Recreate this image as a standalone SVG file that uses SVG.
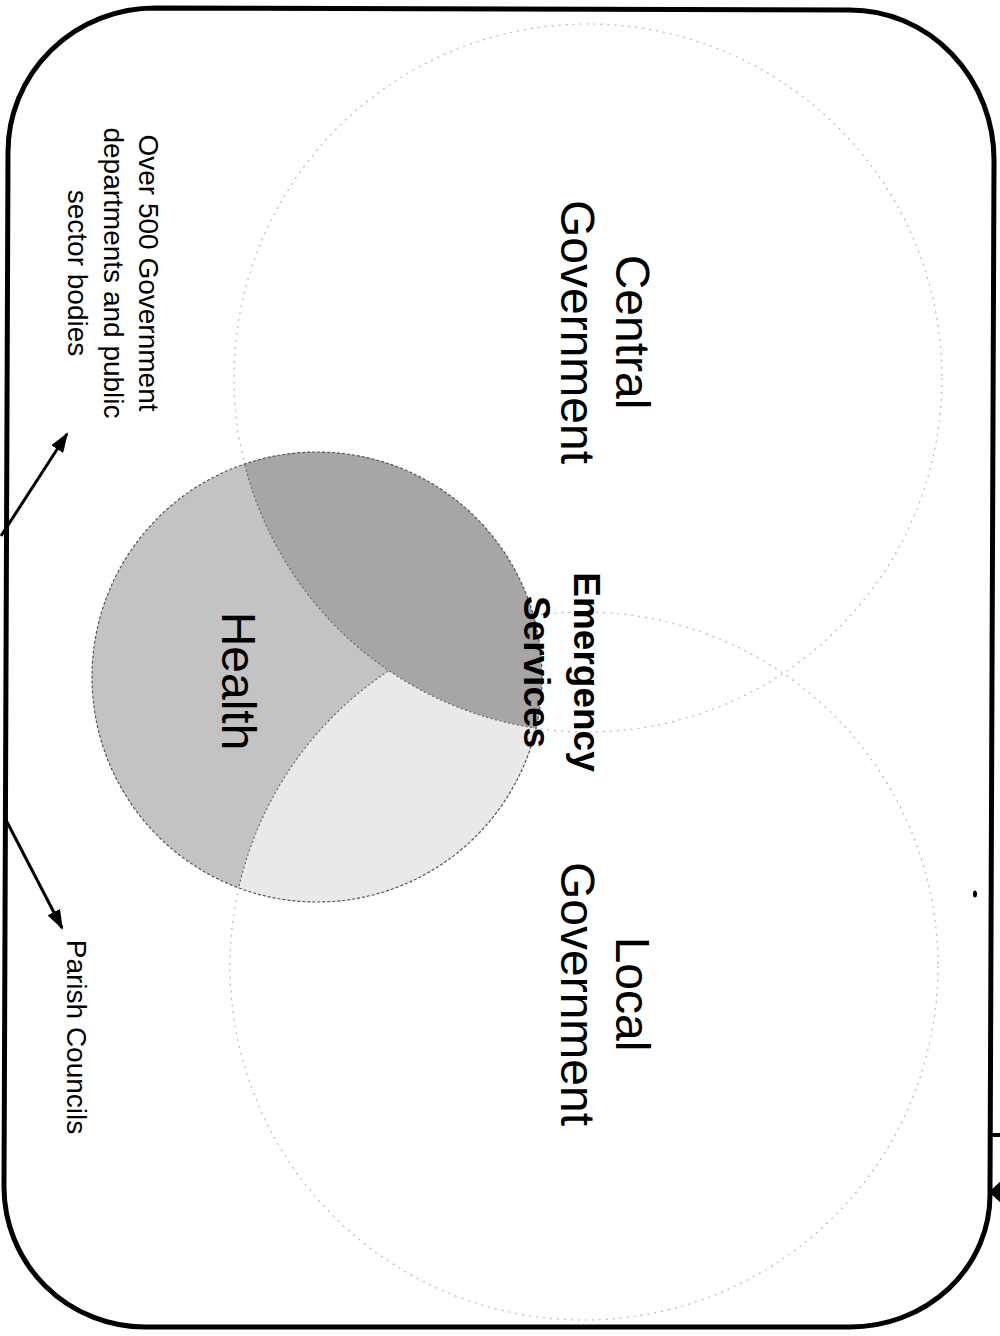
<svg xmlns="http://www.w3.org/2000/svg" width="1000" height="1336" viewBox="0 0 1000 1336">
<defs>
<style>
.lbl{font-family:"Liberation Sans",Arial,Helvetica,sans-serif;fill:#000}
.big{font-size:48px}
.bold{font-size:37px;font-weight:bold}
.small{font-size:28px}
.ring{fill:none;stroke:#b8b8b8;stroke-width:1.2;stroke-dasharray:2 5}
.inner{fill:none;stroke:#6a6a6a;stroke-width:1.2;stroke-dasharray:2 2.5}
.conn{stroke:#000;stroke-width:3;fill:none}
</style>
<clipPath id="clipHealth"><circle cx="317" cy="677" r="225"/></clipPath>
<marker id="ah" viewBox="0 0 20 14" refX="18" refY="7" markerWidth="20" markerHeight="14" markerUnits="userSpaceOnUse" orient="auto"><path d="M0,0 L20,7 L0,14 Z" fill="#000"/></marker>
</defs>
<rect width="1000" height="1336" fill="#fff"/>
<g id="frame">
<path d="M155,8 L850,10 A144,150 0 0 1 994,160 L990,1195 A140,132 0 0 1 850,1327 L145,1327 A141,140 0 0 1 4,1187 L8,152 A147,144 0 0 1 155,8 Z" fill="none" stroke="#000" stroke-width="5"/>
<ellipse cx="975" cy="894" rx="2" ry="3.5" fill="#000"/>
</g>
<g id="central-government">
<circle cx="588" cy="378" r="354" class="ring"/>
<text class="lbl big" transform="translate(616,332) rotate(90)" text-anchor="middle">Central</text>
<text class="lbl big" transform="translate(561,332) rotate(90)" text-anchor="middle">Government</text>
</g>
<g id="local-government">
<circle cx="584" cy="966" r="354" class="ring"/>
<text class="lbl big" transform="translate(616,994) rotate(90)" text-anchor="middle">Local</text>
<text class="lbl big" transform="translate(561,994) rotate(90)" text-anchor="middle">Government</text>
</g>
<g id="health">
<circle cx="317" cy="677" r="225" fill="#c3c3c3"/>
<g clip-path="url(#clipHealth)">
<circle cx="584" cy="966" r="354" fill="#e9e9e9"/>
<circle cx="584" cy="966" r="354" class="inner"/>
<circle cx="588" cy="378" r="354" fill="#a6a6a6"/>
<circle cx="588" cy="378" r="354" class="inner"/>
</g>
<circle cx="317" cy="677" r="225" fill="none" stroke="#555" stroke-width="1.2" stroke-dasharray="3 2"/>
<text class="lbl big" transform="translate(222,681) rotate(90)" text-anchor="middle">Health</text>
</g>
<g id="emergency-services">
<text class="lbl bold" transform="translate(574,672) rotate(90)" text-anchor="middle">Emergency</text>
<text class="lbl bold" transform="translate(524,672) rotate(90)" text-anchor="middle">Services</text>
</g>
<g id="note-government-bodies">
<text class="lbl small" transform="translate(139,273) rotate(90)" text-anchor="middle">Over 500 Government</text>
<text class="lbl small" transform="translate(104,273) rotate(90)" text-anchor="middle">departments and public</text>
<text class="lbl small" transform="translate(68,273) rotate(90)" text-anchor="middle">sector bodies</text>
</g>
<g id="note-parish-councils">
<text class="lbl small" transform="translate(67,1037) rotate(90)" text-anchor="middle">Parish Councils</text>
</g>
<g id="connectors">
<line x1="1" y1="536" x2="67" y2="434" class="conn" marker-end="url(#ah)"/>
<line x1="6" y1="820" x2="62" y2="928" class="conn" marker-end="url(#ah)"/>
<line x1="990" y1="1135" x2="1000" y2="1135" stroke="#000" stroke-width="4"/>
<path d="M989,1192 L1002,1180 L1002,1204 Z" fill="#000"/>
</g>
</svg>
